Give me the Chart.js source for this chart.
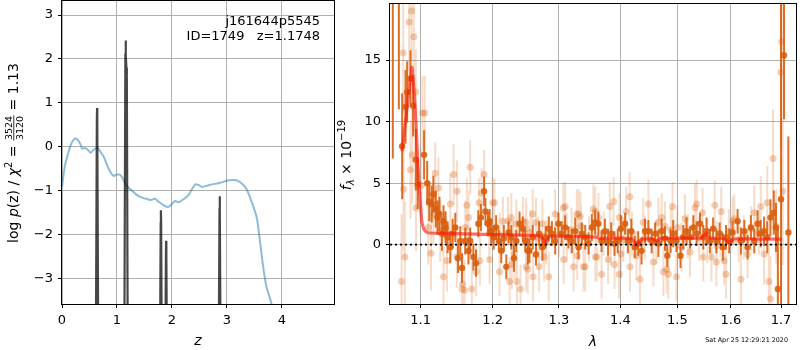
<!DOCTYPE html>
<html><head><meta charset="utf-8">
<script src="https://cdn.jsdelivr.net/npm/chart.js@4.4.0/dist/chart.umd.min.js"></script>
<style>
html,body{margin:0;padding:0;background:#fff;}
#wrap{position:relative;width:800px;height:350px;overflow:hidden;background:#fff;}
#c1{position:absolute;left:0;top:0;}
#c2{position:absolute;left:335px;top:0;}
</style></head><body>
<div id="wrap"><canvas id="c1" width="340" height="350"></canvas><canvas id="c2" width="465" height="350"></canvas></div>
<script>
// ---------- left panel data: log p(z) ----------
const zGrid = [0,0.05,0.11,0.17,0.23,0.28,0.33,0.37,0.42,0.46,0.52,0.57,0.64,0.70,0.76,0.82,0.88,0.94,0.99,1.05,1.10,1.16,1.22,1.28,1.38,1.47,1.56,1.62,1.69,1.75,1.84,1.93,1.99,2.06,2.12,2.21,2.30,2.36,2.43,2.49,2.55,2.67,2.86,3.04,3.17,3.26,3.35,3.44,3.54,3.60,3.66,3.72,3.81,3.90];
const logPz = [-0.92,-0.46,-0.16,0.07,0.18,0.16,0.07,-0.05,-0.03,-0.06,-0.14,-0.08,-0.03,-0.12,-0.23,-0.42,-0.58,-0.67,-0.64,-0.64,-0.71,-0.86,-0.95,-1.01,-1.12,-1.17,-1.20,-1.22,-1.19,-1.25,-1.33,-1.38,-1.32,-1.24,-1.27,-1.20,-1.11,-0.98,-0.86,-0.88,-0.92,-0.88,-0.83,-0.77,-0.77,-0.83,-0.95,-1.22,-1.60,-2.13,-2.73,-3.19,-3.58,-4.3];
// fit chi2 curve (narrow peaks)
const spikeZ = [0.0,0.605,0.634,0.638,0.642,0.671, 1.125,1.153,1.157,1.164,1.172,1.180,1.205, 1.77,1.796,1.800,1.804,1.83, 1.865,1.891,1.895,1.899,1.925, 2.84,2.866,2.870,2.874,2.90, 4.95];
const spikeLogP = [-8,-8,0.58,0.88,0.58,-8, -8,2.1,2.42,2.1,1.8,1.6,-8, -8,-1.75,-1.45,-1.75,-8, -8,-2.45,-2.15,-2.45,-8, -8,-1.43,-1.13,-1.43,-8, -8];
const zTicks = [0,1,2,3,4];
const pTicks = [-3,-2,-1,0,1,2,3];

// ---------- right panel data: spectrum ----------
const lamBin = [1.0636,1.0714,1.0757,1.0801,1.0822,1.0866,1.0900,1.0935,1.0961,1.1046,
1.1087,1.1115,1.1148,1.1170,1.1203,1.1225,1.1253,1.1286,1.1308,1.1336,
1.1364,1.1401,1.1433,1.1470,1.1508,1.1539,1.1563,1.1609,1.1654,1.1678,
1.1723,1.1761,1.1793,1.1830,1.1876,1.1895,1.1931,1.1955,1.1978,1.2015,
1.2050,1.2089,1.2125,1.2163,1.2199,1.2233,1.2273,1.2312,1.2347,1.2396,
1.2445,1.2481,1.2519,1.2545,1.2594,1.2644,1.2693,1.2742,1.2792,1.2841,
1.2890,1.2941,1.2990,1.3042,1.3097,1.3150,1.3203,1.3258,1.3311,1.3365,
1.3419,1.3473,1.3526,1.3581,1.3634,1.3687,1.3742,1.3795,1.3848,1.3903,
1.3956,1.4011,1.4081,1.4129,1.4187,1.4247,1.4306,1.4364,1.4424,1.4483,
1.4541,1.4601,1.4659,1.4717,1.4777,1.4818,1.4876,1.4924,1.4982,1.5056,
1.5105,1.5166,1.5230,1.5291,1.5352,1.5415,1.5476,1.5537,1.5600,1.5661,
1.5722,1.5785,1.5846,1.5907,1.5970,1.6033,1.6131,1.6196,1.6263,1.6327,
1.6392,1.6459,1.6524,1.6588,1.6655,1.6720,1.6784,1.6851,1.6896,1.6935,
1.7000,1.7061,1.7151];
const fluxBin = [22,24,8.0,11.2,12.4,13.5,11.3,6.9,4.9,7.3,
5.0,3.5,3.3,4.1,2.9,2.2,2.5,0.9,1.9,1.4,
0.6,-0.2,0.9,1.4,-1.1,0.3,-1.9,0.3,-0.5,0.3,
-1.0,-1.5,1.7,2.2,4.35,2.7,1.7,1.9,1.1,0.6,
1.4,0.3,-0.5,0.5,-1.8,1.0,0.6,-1.1,0.3,1.7,
1.3,0.3,-0.5,-0.5,0.6,-0.8,0.9,-0.2,0.6,1.3,
0.9,0.3,1.7,0.9,1.4,0.6,0.3,1.1,-0.2,0.9,
0.6,0.1,1.4,1.8,1.7,0.3,1.1,0.2,0.9,0.1,
0.3,1.3,1.7,0.3,1.1,-0.2,0.1,-0.5,1.1,1.1,
0.3,0.9,0.1,1.1,0.5,-0.9,0.3,0.9,0.3,-0.9,
0.6,1.1,0.6,1.4,0.9,1.7,0.6,1.1,0.3,1.3,
0.3,0.9,-0.2,0.6,0.3,1.0,1.9,0.3,1.1,-0.2,
1.4,0.3,1.7,0.9,1.1,0.6,2.2,2.6,1.4,-3.6,
3.7,15.4,1.0];
const errBin = [15,13,4.3,3.0,2.5,2.3,2.5,2.5,2.0,2.0,
1.8,1.6,1.5,1.5,1.5,1.4,1.4,1.4,1.3,1.3,
1.3,1.3,1.2,1.2,1.2,1.2,1.2,1.1,1.1,1.1,
1.1,1.1,1.1,1.1,1.2,1.1,1.0,1.0,1.0,1.0,
1.0,0.9,1.0,1.1,1.0,0.9,1.0,1.1,0.9,1.0,
1.0,0.9,1.1,1.0,1.0,0.9,1.0,1.1,0.9,1.0,
1.0,1.1,0.9,1.0,1.0,0.9,1.0,1.1,1.0,0.9,
1.0,0.9,1.1,1.0,1.0,0.9,1.0,1.1,0.9,1.0,
1.0,1.1,0.9,1.0,1.0,0.9,1.0,1.1,1.0,0.9,
1.0,0.9,1.1,1.0,1.0,0.9,1.0,1.1,0.9,1.0,
1.0,1.1,0.9,1.0,1.0,0.9,1.0,1.1,1.0,0.9,
1.0,0.9,1.1,1.0,1.0,0.9,1.0,1.1,0.9,1.0,
1.0,1.0,1.1,1.1,1.2,1.3,1.5,1.8,2.0,5.0,
25,5.2,7.8];

const lamPt = [1.0749,1.0770,1.0775,1.0792,1.0848,1.0866,1.0879,1.0887,1.0909,1.0935,
1.0938,1.1010,1.1024,1.1055,1.1101,1.1138,1.1170,1.1194,1.1239,1.1263,
1.1308,1.1355,1.1401,1.1447,1.1490,1.1494,1.1563,1.1571,1.1599,1.1609,
1.1632,1.1654,1.1678,1.1701,1.1761,1.1802,1.1816,1.1840,1.1876,1.1955,
1.2000,1.2025,1.2099,1.2148,1.2223,1.2247,1.2273,1.2280,1.2321,1.2347,
1.2356,1.2410,1.2445,1.2490,1.2495,1.2500,1.2519,1.2594,1.2600,1.2644,
1.2693,1.2742,1.2769,1.2841,1.2941,1.3069,1.3075,1.3097,1.3123,1.3231,
1.3284,1.3290,1.3311,1.3339,1.3392,1.3419,1.3553,1.3581,1.3585,1.3608,
1.3634,1.3687,1.3795,1.3823,1.3887,1.3903,1.3980,1.3985,1.4011,1.4099,
1.4159,1.4165,1.4276,1.4336,1.4394,1.4483,1.4571,1.4659,1.4717,1.4748,
1.4777,1.4806,1.4836,1.4912,1.4982,1.5074,1.5137,1.5230,1.5322,1.5352,
1.5463,1.5476,1.5630,1.5693,1.5722,1.5730,1.5815,1.5870,1.5907,1.6033,
1.6067,1.6196,1.6327,1.6459,1.6588,1.6655,1.6720,1.6753,1.6784,1.6837,
1.6994,1.7014,1.7035,
1.1950,1.2100,1.2300,1.2560,1.2680,1.2800,1.3000,1.3200,1.3350,1.3480,
1.3720,1.3840,1.4050,1.4200,1.4420,1.4620,1.4880,1.5000,1.5190,1.5400,
1.5550,1.5800,1.5960,1.6150,1.6250,1.6400,1.6550,1.6900];
const fluxPt = [-3.0,15.6,4.5,-1.0,18.1,6.1,19.0,7.3,16.9,12.4,
3.0,4.8,10.7,10.7,1.4,-0.7,2.5,5.8,4.6,1.1,
-2.6,-1.3,3.3,5.7,-1.0,4.35,-3.6,-3.2,-3.7,1.4,
3.2,2.2,6.3,-3.6,-2.2,3.4,-1.3,4.2,5.7,-1.2,
3.4,3.4,-2.2,1.9,1.9,-3.0,2.2,-1.6,-0.75,1.7,
-3.0,-3.6,1.9,1.8,-1.8,1.3,-2.0,2.5,-2.6,1.8,
-1.8,1.7,-1.0,-2.6,2.5,3.0,-1.2,3.1,0.6,-1.8,
2.5,-0.9,2.5,2.3,-1.8,-1.8,2.9,2.7,-1.0,-1.0,
2.2,-2.4,-1.2,3.1,3.5,-1.6,-2.4,2.2,-0.75,2.7,
3.9,-1.8,-0.9,-2.8,1.8,3.3,-1.4,1.8,2.2,-2.2,
1.5,-2.0,-2.4,3.1,-2.6,-0.2,2.1,-0.6,3.0,3.3,
2.6,-1.0,-1.0,3.2,-1.4,-0.1,2.7,-1.3,-2.4,1.9,
2.1,-2.8,-0.75,2.6,3.1,-0.75,3.4,-3.0,-4.4,7.0,
14.0,16.5,4.35,
0.9,0.8,0.2,1.0,0.5,0.2,0.8,1.2,1.5,0.5,
0.9,0.1,0.4,0.9,0.6,0.2,1.2,1.4,0.7,0.5,
0.3,0.8,1.1,0.4,0.6,1.3,1.0,1.5];
const errPt = [5.5,5.0,5.0,4.5,4.0,4.0,4.0,4.0,4.0,3.5,
3.5,3.0,3.0,3.0,3.0,3.0,2.5,2.5,2.5,2.5,
2.5,2.5,2.5,2.5,2.5,2.5,2.5,2.5,2.5,2.2,
2.2,2.2,2.2,2.2,2.0,2.0,2.0,2.0,2.0,2.0,
2.0,2.0,2.0,2.0,2.0,2.0,2.0,2.0,2.0,2.0,
2.0,2.0,2.0,2.0,2.0,2.0,2.0,2.0,2.0,2.0,
2.0,2.0,2.0,2.0,2.0,2.0,2.0,2.0,2.0,2.0,
2.0,2.0,2.0,2.0,2.0,2.0,2.0,2.0,2.0,2.0,
2.0,2.0,2.0,2.0,2.0,2.0,2.0,2.0,2.0,2.0,
2.0,2.0,2.0,2.0,2.0,2.0,2.0,2.0,2.0,2.0,
2.0,2.0,2.0,2.0,2.0,2.0,2.0,2.0,2.0,2.0,
2.0,2.0,2.0,2.0,2.0,2.0,2.0,2.0,2.0,2.0,
2.0,2.0,2.0,2.2,2.5,2.5,3.0,3.0,3.5,4.0,
6.0,6.0,6.0,
1.8,1.8,1.8,1.8,1.8,1.8,1.8,1.8,1.8,1.8,
1.8,1.8,1.8,1.8,1.8,1.8,1.8,1.8,1.8,1.8,
1.8,1.8,1.8,1.8,1.8,1.8,1.8,3.0];

const lamModel = [1.0755,1.0800,1.0840,1.0875,1.0885,1.0905,1.0930,1.0955,1.0975,1.0995,1.1015,1.1040,1.1070,1.1120,1.1500,1.2000,1.2500,1.2700,1.2750,1.2785,1.2820,1.2855,1.3200,1.3600,1.3650,1.4000,1.4200,1.4276,1.4350,1.4400,1.4550,1.4630,1.4700,1.5000,1.5450,1.5526,1.5600,1.5850,1.5970,1.6050,1.6500,1.7020];
const fluxModel = [7.6,10.0,12.3,14.0,14.4,13.2,10.8,7.6,5.2,3.5,1.9,1.3,1.05,0.95,0.9,0.82,0.76,0.72,0.45,0.05,0.4,0.67,0.68,0.62,0.52,0.54,0.48,-0.08,0.4,0.45,0.48,0.3,0.52,0.54,0.55,0.9,0.55,0.5,0.19,0.46,0.46,0.46];
const lamTicks = [1.1,1.2,1.3,1.4,1.5,1.6,1.7];
const fTicks = [0,5,10,15];

// ---------- helpers ----------
const FONT = '"DejaVu Sans", sans-serif';
const fmtNum = v => (v < 0 ? '\u2212' + Math.abs(v) : String(v));
function pts(xs, ys){ return xs.map((x,i)=>({x:x, y:ys[i]})); }
function errSegs(xs, ys, es){
  const out=[];
  xs.forEach((x,i)=>{ out.push({x:x,y:ys[i]-es[i]},{x:x,y:ys[i]+es[i]},{x:x,y:null}); });
  return out;
}
function drawRich(ctx, parts, x, y, angle){
  ctx.save(); ctx.translate(x,y); ctx.rotate(angle);
  let total=0;
  parts.forEach(p=>{
    ctx.font=p.f;
    if(p.frac){ p.w=Math.max(ctx.measureText(p.frac[0]).width, ctx.measureText(p.frac[1]).width)+2; }
    else p.w=ctx.measureText(p.t).width;
    total+=p.w;
  });
  let cx=-total/2;
  ctx.fillStyle='#000'; ctx.textBaseline='alphabetic'; ctx.textAlign='left';
  parts.forEach(p=>{
    ctx.font=p.f;
    if(p.frac){
      ctx.textAlign='center';
      ctx.fillText(p.frac[0], cx+p.w/2, -5.6);
      ctx.fillText(p.frac[1], cx+p.w/2, 5.0);
      ctx.textAlign='left';
      ctx.fillRect(cx+0.5, -4.6, p.w-1, 0.8);
    } else ctx.fillText(p.t, cx, p.dy||0);
    cx+=p.w;
  });
  ctx.restore();
}
function frame(chart){
  const {ctx, chartArea:a}=chart;
  ctx.save(); ctx.strokeStyle='#000'; ctx.lineWidth=1;
  ctx.strokeRect(Math.round(a.left)-0.5, Math.round(a.top)-0.5, Math.round(a.right-a.left)+1, Math.round(a.bottom-a.top)+1);
  ctx.restore();
}
function setTicks(list){ return s => { s.ticks = list.map(v=>({value:v})); }; }
function fitX(h){ return s => { s.height=h; s.paddingLeft=0; s.paddingRight=0; }; }
function fitY(w){ return s => { s.width=w; s.paddingTop=0; s.paddingBottom=0; }; }
function gridOpts(){ return {color:'#b0b0b0', lineWidth:1, drawTicks:true, tickLength:4, tickColor:'#000'}; }
const tickFont = {family:'"DejaVu Sans"', size:13};

// ---------- left chart ----------
const leftDecor = {
  id:'leftDecor',
  afterDraw(chart){
    frame(chart);
    const ctx=chart.ctx, a=chart.chartArea;
    ctx.save();
    ctx.fillStyle='#000'; ctx.textAlign='right'; ctx.textBaseline='alphabetic';
    ctx.font='13px '+FONT;
    ctx.fillText('j161644p5545', a.right-14, 25);
    ctx.fillText('ID=1749   z=1.1748', a.right-14, 40);
    ctx.font='italic 14px '+FONT; ctx.textAlign='center';
    ctx.fillText('z', (a.left+a.right)/2, 345);
    ctx.restore();
    const f14='14px '+FONT, i14='italic 14px '+FONT, f10='10px '+FONT;
    drawRich(ctx,[{t:'log ',f:f14},{t:'p',f:i14},{t:'(z) / ',f:f14},{t:'\u03c7',f:i14},{t:'2',f:f10,dy:-6},{t:' = ',f:f14},{frac:['3524','3120'],f:'9.5px '+FONT},{t:' = 1.13',f:f14}], 18, 153, -Math.PI/2);
  }
};
new Chart(document.getElementById('c1'), {
  type:'line',
  data:{datasets:[
    {data:pts(zGrid,logPz), borderColor:'rgba(31,119,180,0.5)', borderWidth:2, pointRadius:0, tension:0.3, order:2},
    {data:pts(spikeZ,spikeLogP), borderColor:'rgba(0,0,0,0.72)', borderWidth:2.2, pointRadius:0, tension:0, order:1}
  ]},
  options:{
    responsive:false, animation:false, devicePixelRatio:1,
    layout:{padding:{top:1,right:6,left:0,bottom:0}},
    plugins:{legend:{display:false}, tooltip:{enabled:false}},
    scales:{
      x:{type:'linear', min:0, max:4.95, bounds:'data', grid:gridOpts(), border:{display:false},
         afterBuildTicks:setTicks(zTicks), afterFit:fitX(46),
         ticks:{font:tickFont, color:'#000', padding:5, autoSkip:false, maxRotation:0, callback:v=>fmtNum(v)}},
      y:{type:'linear', min:-3.59, max:3.32, bounds:'data', grid:gridOpts(), border:{display:false},
         afterBuildTicks:setTicks(pTicks), afterFit:fitY(62),
         ticks:{font:tickFont, color:'#000', padding:5, autoSkip:false, callback:v=>fmtNum(v)}}
    }
  },
  plugins:[leftDecor]
});

// ---------- right chart ----------
const DARK='rgba(217,95,14,0.9)';
const rightDecor = {
  id:'rightDecor',
  afterDraw(chart){
    frame(chart);
    const ctx=chart.ctx, a=chart.chartArea;
    ctx.save();
    ctx.fillStyle='#000';
    ctx.font='italic 14px '+FONT; ctx.textAlign='center';
    ctx.fillText('\u03bb', (a.left+a.right)/2, 346);
    ctx.font='6.4px '+FONT; ctx.textAlign='right';
    ctx.fillText('Sat Apr 25 12:29:21 2020', 453, 342);
    ctx.restore();
    const f14='14px '+FONT, i14='italic 14px '+FONT, f10='10px '+FONT;
    drawRich(ctx,[{t:'f',f:i14},{t:'\u03bb',f:'italic 10px '+FONT,dy:3},{t:' \u00d7 10',f:f14},{t:'\u221219',f:f10,dy:-6}], 16, 155, -Math.PI/2);
  }
};
new Chart(document.getElementById('c2'), {
  type:'line',
  data:{datasets:[
    {data:errSegs(lamPt,fluxPt,errPt), borderColor:'rgba(217,95,14,0.22)', borderWidth:2, pointRadius:0, spanGaps:false, order:6},
    {data:pts(lamPt,fluxPt), showLine:false, pointRadius:3.5, pointBorderWidth:0, pointBackgroundColor:'rgba(217,95,14,0.3)', pointBorderColor:'rgba(0,0,0,0)', order:5},
    {data:errSegs(lamBin,fluxBin,errBin), borderColor:DARK, borderWidth:2, pointRadius:0, spanGaps:false, order:4},
    {data:pts(lamBin,fluxBin), showLine:false, pointRadius:3.2, pointBorderWidth:0, pointBackgroundColor:DARK, pointBorderColor:'rgba(0,0,0,0)', order:3},
    {data:pts(lamModel,fluxModel), borderColor:'rgba(255,20,10,0.62)', borderWidth:3.2, pointRadius:0, tension:0.2, order:2},
    {data:[{x:1.06,y:0},{x:1.731,y:0}], borderColor:'#000', borderWidth:1.8, borderDash:[2,3], pointRadius:0, order:1}
  ]},
  options:{
    responsive:false, animation:false, devicePixelRatio:1,
    layout:{padding:{top:1,right:1,left:0,bottom:0}},
    plugins:{legend:{display:false}, tooltip:{enabled:false}},
    scales:{
      x:{type:'logarithmic', min:1.06, max:1.731, bounds:'data', grid:gridOpts(), border:{display:false},
         afterBuildTicks:setTicks(lamTicks), afterFit:fitX(46),
         ticks:{font:tickFont, color:'#000', padding:5, autoSkip:false, maxRotation:0, callback:v=>Number(v).toFixed(1)}},
      y:{type:'linear', min:-4.82, max:19.56, bounds:'data', grid:gridOpts(), border:{display:false},
         afterBuildTicks:setTicks(fTicks), afterFit:fitY(55),
         ticks:{font:tickFont, color:'#000', padding:5, autoSkip:false, callback:v=>fmtNum(v)}}
    }
  },
  plugins:[rightDecor]
});
</script>
</body></html>
